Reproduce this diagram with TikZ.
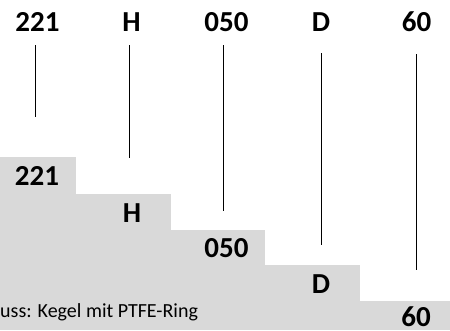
\documentclass[tikz,border=0pt]{standalone}
\usepackage{fontspec}
\setmainfont{Carlito}
\begin{document}
\begin{tikzpicture}[x=1pt,y=-1pt,
  codelabel/.style={font=\bfseries\fontsize{29}{33}\selectfont, inner sep=0pt, anchor=base},
  rowfill/.style={fill=rowgray, draw=none},
  leader/.style={draw=black, line width=0.9pt}]
\definecolor{rowgray}{HTML}{D9D9D9}
\useasboundingbox (0,0) rectangle (450,330);
\fill[white] (0,0) rectangle (450,330);
% stepped rows
\fill[rowfill] (0,157) rectangle (76,194);
\fill[rowfill] (0,194) rectangle (171,230);
\fill[rowfill] (0,230) rectangle (265,265);
\fill[rowfill] (0,265) rectangle (360,301);
\fill[rowfill] (0,301) rectangle (450,330);
% top labels
\node[codelabel] (t1) at (37.5,31) {221};
\node[codelabel] (t2) at (131.5,31) {H};
\node[codelabel] (t3) at (226.5,31) {050};
\node[codelabel] (t4) at (321,31) {D};
\node[codelabel] (t5) at (416.5,31) {60};
% row labels
\node[codelabel] (r1) at (37,185) {221};
\node[codelabel] (r2) at (132,222) {H};
\node[codelabel] (r3) at (226.5,257) {050};
\node[codelabel] (r4) at (321,293) {D};
\node[codelabel] (r5) at (416,326.5) {60};
\node[font=\fontsize{20}{24}\selectfont, inner sep=0pt, anchor=base west] (desc) at (0,317) {uss: Kegel mit PTFE-Ring};
% leader lines
\coordinate (a1) at (35,45);  \coordinate (b1) at (35,117);
\coordinate (a2) at (129,45); \coordinate (b2) at (129,158);
\coordinate (a3) at (223,45); \coordinate (b3) at (223,211);
\coordinate (a4) at (321,53); \coordinate (b4) at (321,245);
\coordinate (a5) at (416,54); \coordinate (b5) at (416,270);
\foreach \i in {1,...,5} \draw[leader] (a\i) -- (b\i);
\end{tikzpicture}
\end{document}
